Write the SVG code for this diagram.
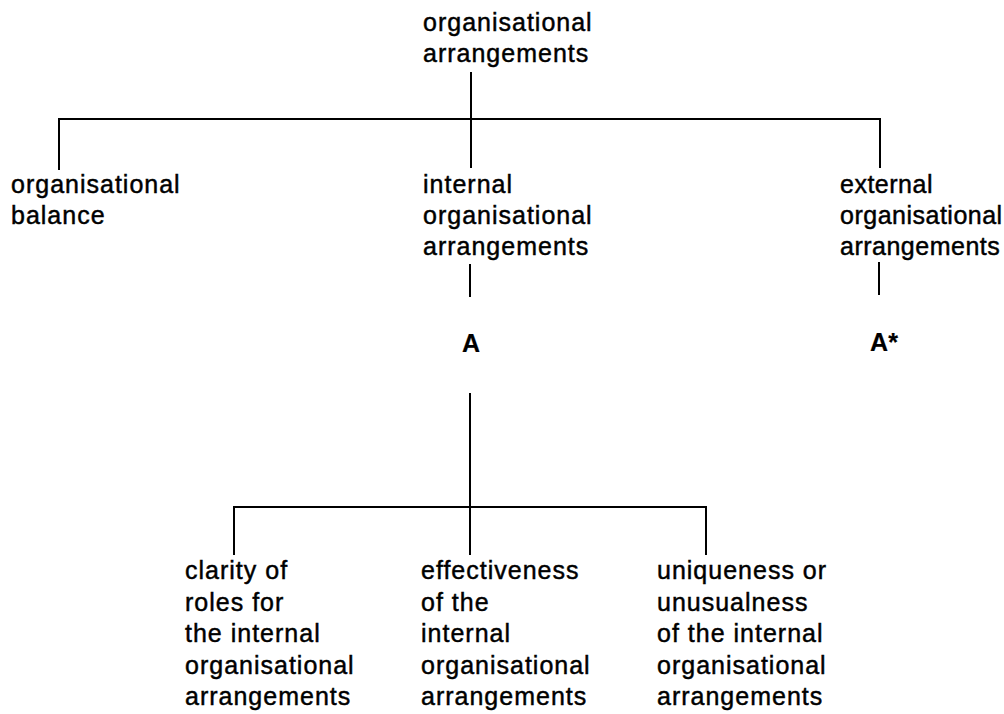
<svg xmlns="http://www.w3.org/2000/svg" width="1004" height="714" viewBox="0 0 1004 714">
<style>
text{font-family:"Liberation Sans",Arial,Helvetica,sans-serif;font-size:25px;letter-spacing:1px;fill:#000;stroke:#000;stroke-width:0.45px}
.l{font-weight:bold;text-anchor:middle;letter-spacing:0;stroke-width:0.2px}
.n text{letter-spacing:0.5px}
.c line{stroke:#000;stroke-width:2;fill:none}
</style>
<rect width="1004" height="714" fill="#fff"/>
<g class="c" id="connectors">
<line x1="471" y1="72" x2="471" y2="119"/>
<line x1="58" y1="119" x2="881" y2="119"/>
<line x1="59" y1="118" x2="59" y2="170"/>
<line x1="471" y1="119" x2="471" y2="168"/>
<line x1="880" y1="118" x2="880" y2="168"/>
<line x1="470" y1="264" x2="470" y2="297"/>
<line x1="879" y1="262" x2="879" y2="295"/>
<line x1="470" y1="393" x2="470" y2="555"/>
<line x1="233" y1="507" x2="707" y2="507"/>
<line x1="234" y1="506" x2="234" y2="555"/>
<line x1="706" y1="506" x2="706" y2="555"/>
</g>
<g id="root"><text x="423" y="31">organisational</text><text x="423" y="62">arrangements</text></g>
<g id="balance"><text x="11" y="193">organisational</text><text x="11" y="224">balance</text></g>
<g id="internal"><text x="423" y="193">internal</text><text x="423" y="224">organisational</text><text x="423" y="255">arrangements</text></g>
<g id="external" class="n"><text x="840" y="193">external</text><text x="840" y="224">organisational</text><text x="840" y="255">arrangements</text></g>
<g id="A"><text class="l" x="471" y="352">A</text></g>
<g id="Astar"><text class="l" x="884" y="351">A*</text></g>
<g id="clarity"><text x="185" y="579">clarity of</text><text x="185" y="610.5">roles for</text><text x="185" y="642">the internal</text><text x="185" y="673.5">organisational</text><text x="185" y="705">arrangements</text></g>
<g id="effectiveness"><text x="421" y="579">effectiveness</text><text x="421" y="610.5">of the</text><text x="421" y="642">internal</text><text x="421" y="673.5">organisational</text><text x="421" y="705">arrangements</text></g>
<g id="uniqueness"><text x="657" y="579">uniqueness or</text><text x="657" y="610.5">unusualness</text><text x="657" y="642">of the internal</text><text x="657" y="673.5">organisational</text><text x="657" y="705">arrangements</text></g>
</svg>
